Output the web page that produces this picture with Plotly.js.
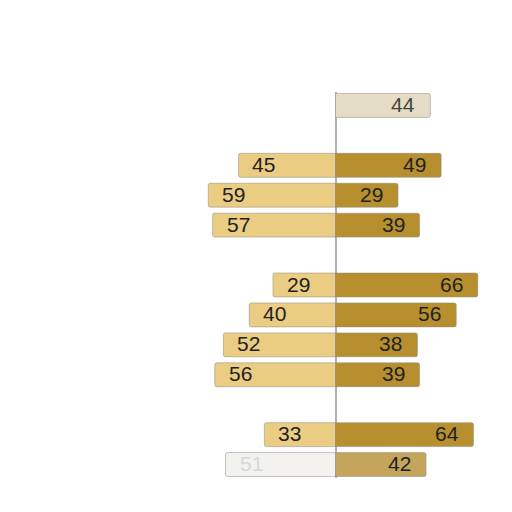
<!DOCTYPE html>
<html>
<head>
<meta charset="utf-8">
<script src="https://cdn.plot.ly/plotly-3.0.1.min.js"></script>
<style>
  html, body { margin: 0; padding: 0; background: #ffffff; }
  #chart { width: 512px; height: 512px; }
</style>
</head>
<body>
<div id="chart"></div>
<script>
// Diverging bar chart - left (light gold) vs right (dark gold)

// rows from top to bottom, gaps are empty slots between the groups
const rowOrder = ['row A', 'gap 1', 'row B', 'row C', 'row D', 'gap 2', 'row E', 'row F',
                  'row G', 'row H', 'gap 3', 'row I', 'row J'];
const barRows = ['row A', 'row B', 'row C', 'row D', 'row E', 'row F', 'row G', 'row H', 'row I', 'row J'];
const leftValues = [null, 45, 59, 57, 29, 40, 52, 56, 33, 51];
const rightValues = [44, 49, 29, 39, 66, 56, 38, 39, 64, 42];

const COLORS = {
  left: '#EACC82',
  right: '#B78F2E',
  outline: 'rgba(140,140,140,0.5)',
  text: '#222222',
  axis: '#b0b0b0'
};

// the top and bottom rows are washed out in the picture
const leftColors = barRows.map((r, i) => i === 9 ? '#f3f2ef' : COLORS.left);
const leftText = barRows.map((r, i) => i === 9 ? '#d8d8d8' : COLORS.text);
const rightColors = barRows.map((r, i) => i === 0 ? '#e4dcc4' : (i === 9 ? '#c4a55c' : COLORS.right));
const rightText = barRows.map((r, i) => i === 0 ? '#444444' : COLORS.text);

const labelFont = 'Liberation Sans, Arial, sans-serif';

function barTrace(xs, colors) {
  return {
    type: 'bar',
    orientation: 'h',
    y: barRows,
    x: xs,
    marker: { color: colors, cornerradius: 2, line: { color: COLORS.outline, width: 1 } },
    width: 0.8,
    hoverinfo: 'skip'
  };
}

const leftX = leftValues.map(v => v === null ? null : -v);

// value labels sit inside the bars, near the outer end
const annotations = [];
barRows.forEach((row, i) => {
  if (leftValues[i] !== null) {
    annotations.push({
      x: leftX[i], y: row, xref: 'x', yref: 'y',
      text: String(leftValues[i]), showarrow: false,
      xanchor: 'left', xshift: 12, yshift: 1,
      font: { family: labelFont, size: 21, color: leftText[i] }
    });
  }
  annotations.push({
    x: rightValues[i], y: row, xref: 'x', yref: 'y',
    text: String(rightValues[i]), showarrow: false,
    xanchor: 'right', xshift: -13, yshift: 1,
    font: { family: labelFont, size: 21, color: rightText[i] }
  });
});

const layout = {
  width: 512,
  height: 512,
  barmode: 'overlay',
  showlegend: false,
  margin: { l: 163, r: 4, t: 92, b: 34 },
  paper_bgcolor: 'white',
  plot_bgcolor: 'white',
  annotations: annotations,
  xaxis: {
    range: [-80, 80],
    showgrid: false,
    showticklabels: false,
    ticks: '',
    zeroline: true,
    zerolinecolor: COLORS.axis,
    zerolinewidth: 2,
    showline: false,
    fixedrange: true
  },
  yaxis: {
    type: 'category',
    categoryorder: 'array',
    categoryarray: rowOrder,
    range: [rowOrder.length - 0.55, -0.45],
    showgrid: false,
    showticklabels: false,
    ticks: '',
    zeroline: false,
    showline: false,
    fixedrange: true
  }
};

Plotly.newPlot('chart', [barTrace(leftX, leftColors), barTrace(rightValues, rightColors)], layout,
  { displayModeBar: false, staticPlot: true });
</script>
</body>
</html>
